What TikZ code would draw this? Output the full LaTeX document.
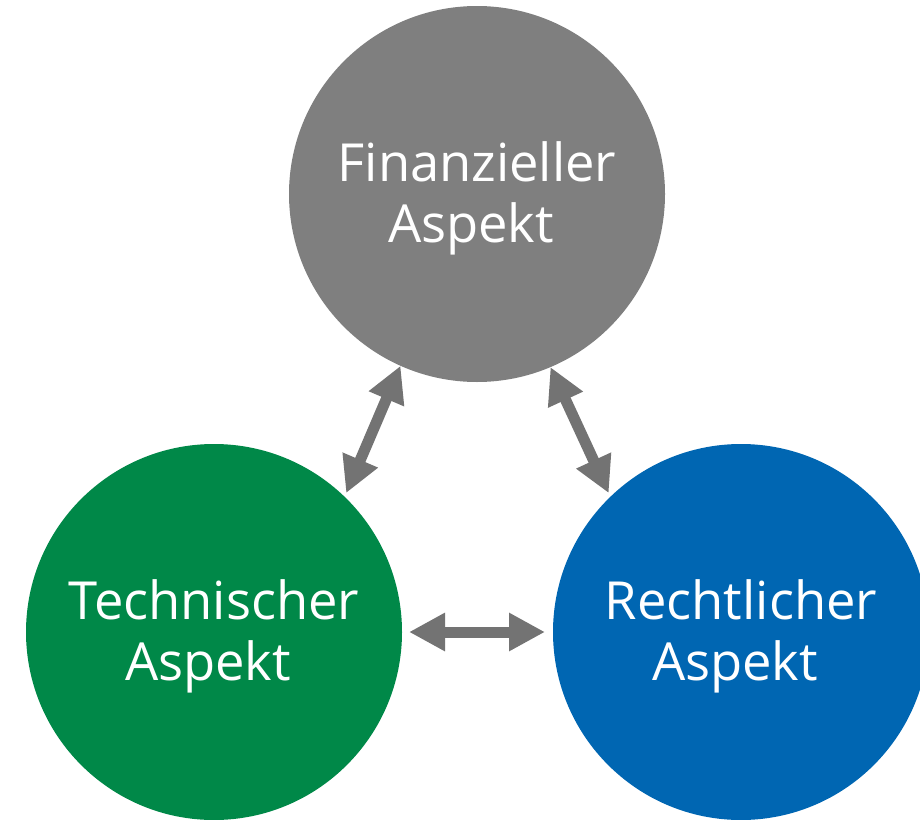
\documentclass[tikz,border=0pt]{standalone}
\usepackage{fontspec}
\setmainfont{Open Sans}
\usetikzlibrary{arrows.meta}
\definecolor{aspgray}{HTML}{7F7F7F}
\definecolor{aspgreen}{HTML}{008848}
\definecolor{aspblue}{HTML}{0066B2}
\definecolor{arrgray}{HTML}{737373}
\tikzset{
  aspect/.style={circle, minimum size=376pt, inner sep=0pt, outer sep=0pt},
  aspecttext/.style={text=white, align=center, inner sep=0pt, yshift=-4pt,
    font=\fontsize{52.5}{61}\selectfont},
  link/.style={arrgray, line width=11pt,
    {Triangle[length=36pt,width=36pt]}-{Triangle[length=36pt,width=36pt]}}
}
\begin{document}
\begin{tikzpicture}[x=1pt,y=-1pt]
  \useasboundingbox (0,0) rectangle (920,819);
  % the three aspects
  \node[aspect, fill=aspgray]  (fin) at (477,194) {};
  \node[aspect, fill=aspgreen] (tec) at (214,632) {};
  \node[aspect, fill=aspblue]  (rec) at (741,632) {};
  \node[aspecttext] (fintext) at (fin.center) {Finanzieller\\Aspekt\hspace*{12pt}};
  \node[aspecttext] (tectext) at (tec.center) {Technischer\\Aspekt\hspace*{12pt}};
  \node[aspecttext] (rectext) at (rec.center) {Rechtlicher\\Aspekt\hspace*{12pt}};
  % mutual relations
  \draw[link, shorten >=4pt] (fin.246.5) -- (tec.46.7);
  \draw[link, shorten >=4pt] (fin.293.6) -- (rec.134.6);
  \draw[link, shorten <=7pt, shorten >=8pt] (tec.east) -- (rec.west);
\end{tikzpicture}
\end{document}
